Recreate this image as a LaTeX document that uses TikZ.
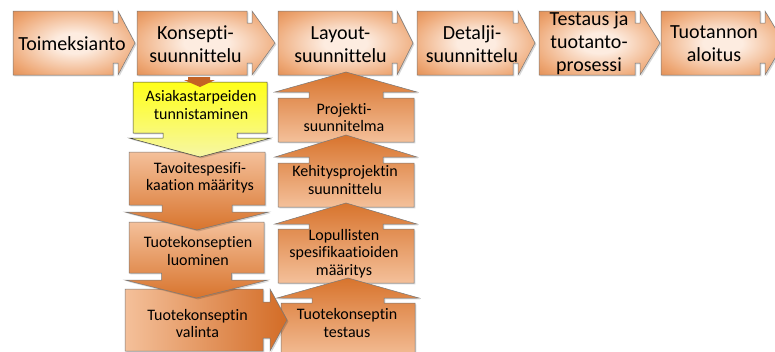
\documentclass[tikz,border=0pt]{standalone}
\usepackage{fontspec}
\setmainfont[Ligatures={NoCommon}]{Carlito}
\definecolor{ordark}{RGB}{211,108,38}
\definecolor{ormidc}{RGB}{238,168,118}
\definecolor{orlight}{RGB}{253,236,224}
\definecolor{ortipc}{RGB}{216,116,45}
\definecolor{ortail}{RGB}{244,192,154}
\definecolor{olinecol}{RGB}{120,120,120}
\definecolor{yelA}{RGB}{255,255,25}
\definecolor{yelB}{RGB}{246,246,165}
\definecolor{smallor}{RGB}{196,98,36}
\pgfdeclareradialshading{orrad}{\pgfpoint{0bp}{0bp}}{color(0bp)=(orlight); color(8bp)=(orlight); color(28bp)=(ormidc); color(47bp)=(ordark); color(50bp)=(ordark)}
\tikzset{
  sh/.style={preaction={fill=black, fill opacity=0.16, draw=none, transform canvas={shift={(1.4pt,-1.4pt)}}}},
  topbox/.style={sh, draw=olinecol, line width=0.5pt, shading=orrad},
  downbox/.style={sh, draw=olinecol, line width=0.5pt, top color=ortail, bottom color=ortipc},
  upbox/.style={sh, draw=olinecol, line width=0.5pt, top color=ortipc, bottom color=ortail},
  rightbox/.style={sh, draw=olinecol, line width=0.5pt, left color=ortail, right color=ordark},
  yelbox/.style={sh, draw=black!75, line width=0.5pt, top color=yelA, bottom color=yelB},
  minarrow/.style={fill=smallor, draw=none},
  bigtxt/.style={font=\fontsize{20}{23}\selectfont, align=center, anchor=base, inner sep=0pt},
  smalltxt/.style={font=\fontsize{16}{17.5}\selectfont, align=center, anchor=base, inner sep=0pt},
}
% right-pointing callout: style, x0, x1, x2, xt, y0, y1, notch
\newcommand\RCallout[8]{%
  \path[#1] (#2,#6) -- (#3,#6) -- (#3,#6+#8) -- (#4,#6+#8) -- (#4,#6) -- (#5,{(#6+#7)/2})
    -- (#4,#7) -- (#4,#7-#8) -- (#3,#7-#8) -- (#3,#7) -- (#2,#7) -- cycle;}
% down-pointing callout: style, x0, x1, y0, y1, shaft half width, wing y, wing overhang, tip y
\newcommand\DCallout[9]{%
  \path[#1] (#2,#4) -- (#3,#4) -- (#3,#5) -- ({(#2+#3)/2+#6},#5) -- ({(#2+#3)/2+#6},#7)
    -- (#3+#8,#7) -- ({(#2+#3)/2},#9) -- (#2-#8,#7) -- ({(#2+#3)/2-#6},#7)
    -- ({(#2+#3)/2-#6},#5) -- (#2,#5) -- cycle;}
% up-pointing callout: style, x0, x1, y0 (top), y1 (bottom), shaft half width, wing y, wing overhang, tip y
\newcommand\UCallout[9]{%
  \path[#1] (#2,#5) -- (#2,#4) -- ({(#2+#3)/2-#6},#4) -- ({(#2+#3)/2-#6},#7)
    -- (#2-#8,#7) -- ({(#2+#3)/2},#9) -- (#3+#8,#7) -- ({(#2+#3)/2+#6},#7)
    -- ({(#2+#3)/2+#6},#4) -- (#3,#4) -- (#3,#5) -- cycle;}
\begin{document}
\begin{tikzpicture}[x=1pt,y=-1pt]
\clip (0,0) rectangle (775,351);
\fill[white] (0,0) rectangle (775,351);
% top row
\RCallout{topbox}{13}{113}{118}{135}{11}{75}{12}
\RCallout{topbox}{137}{247}{252}{275}{11}{75}{12}
\RCallout{topbox}{278}{392}{397}{413}{11}{75}{12}
\RCallout{topbox}{417}{513}{518}{535}{11}{75}{12}
\RCallout{topbox}{539}{635}{640}{660}{11}{75}{12}
\RCallout{topbox}{661}{760}{765}{784}{11}{75}{12}
\node[bigtxt] (toim) at (72,50) {Toimeksianto};
\node[bigtxt] (kons) at (195.5,62) {Konsepti-\\suunnittelu};
\node[bigtxt] (layo) at (340.5,62) {Layout-\\suunnittelu};
\node[bigtxt] (deta) at (472,62) {Detalji-\\suunnittelu};
\node[bigtxt] (test) at (589,71) {Testaus ja\\tuotanto-\\prosessi};
\node[bigtxt] (tuot) at (714,61.7) {Tuotannon\\aloitus};
% right column (up arrows)
\UCallout{upbox}{278}{414}{98}{142}{37}{92}{3}{72}
\UCallout{upbox}{278}{414}{163}{207}{37}{157}{3}{135}
\UCallout{upbox}{278}{414}{229}{283}{37}{224}{3}{203}
\UCallout{upbox}{281}{415}{303}{360}{36}{298}{4}{278}
\node[smalltxt] (proj) at (344,131.7) {Projekti-\\suunnitelma};
\node[smalltxt] (kehi) at (345,194) {Kehitysprojektin\\suunnittelu};
\node[smalltxt] (lopu) at (344,275) {Lopullisten\\spesifikaatioiden\\määritys};
\node[smalltxt] (ttes) at (347,337.3) {Tuotekonseptin\\testaus};
% left column
\RCallout{rightbox}{125}{263}{270}{287}{289}{351}{13}
\DCallout{downbox}{129}{264}{222}{273}{35}{280}{4}{298}
\DCallout{downbox}{129}{265}{152}{205}{35}{212}{4}{230}
\DCallout{yelbox}{133}{267}{82}{133}{37}{138}{4}{157}
\path[minarrow] (188,77) -- (210,77) -- (210,80) -- (215,80) -- (200,87) -- (184,80) -- (188,80) -- cycle;
\node[smalltxt] (asia) at (201,119.3) {Asiakastarpeiden\\tunnistaminen};
\node[smalltxt] (tavo) at (200,190.7) {Tavoitespesifi-\\kaation määritys};
\node[smalltxt] (luom) at (198,265) {Tuotekonseptien\\luominen};
\node[smalltxt] (vali) at (197.5,337.7) {Tuotekonseptin\\valinta};
\end{tikzpicture}
\end{document}
